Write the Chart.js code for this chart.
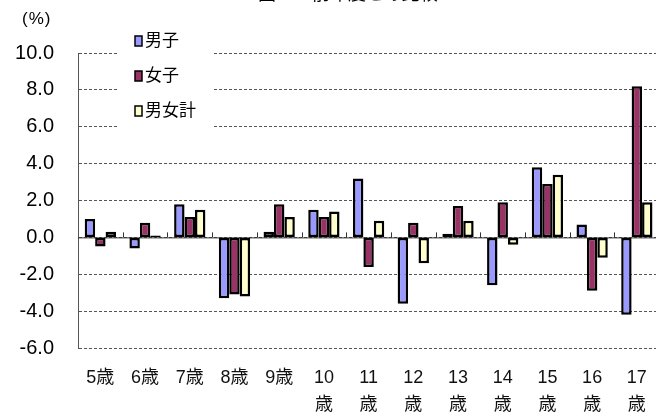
<!DOCTYPE html>
<html>
<head>
<meta charset="utf-8">
<script src="https://cdn.jsdelivr.net/npm/chart.js@4.4.1/dist/chart.umd.min.js"></script>
<style>
  body { margin: 0; background: #fff; }
  #wrap { position: relative; width: 656px; height: 417px; overflow: hidden; }
  #title { position: absolute; top: -21px; left: 258px; font: 18px 'Noto Sans CJK JP'; white-space: nowrap; color: #000; }
  #unit { position: absolute; top: 9px; left: 22px; font: 17px 'Liberation Sans', 'Noto Sans CJK JP'; color: #000; letter-spacing: 1px; }
</style>
</head>
<body>
<div id="wrap">
  <div id="title">図５　前年度との比較</div>
  <canvas id="myChart" width="664" height="417"></canvas>
  <div id="unit">(%)</div>
</div>
<script>
// 데이터
const categories = ['5歳', '6歳', '7歳', '8歳', '9歳', ['10', '歳'], ['11', '歳'], ['12', '歳'],
  ['13', '歳'], ['14', '歳'], ['15', '歳'], ['16', '歳'], ['17', '歳']];
const seriesNames = ['男子', '女子', '男女計'];
const boys = [1.0, -0.6, 1.8, -3.3, 0.3, 1.5, 3.2, -3.6, 0.2, -2.6, 3.8, 0.7, -4.2];
const girls = [-0.5, 0.8, 1.1, -3.1, 1.8, 1.1, -1.6, 0.8, 1.7, 1.9, 2.9, -2.9, 8.2];
const total = [0.3, 0.1, 1.5, -3.2, 1.1, 1.4, 0.9, -1.4, 0.9, -0.4, 3.4, -1.1, 1.9];
const yTicks = { min: -6, max: 10, step: 2 };

const colors = ['#9999FF', '#993366', '#FFFFCC'];
const fontFamily = "'Liberation Sans', 'Noto Sans CJK JP', sans-serif";

// 0선 + 범례 그리기
const overlayPlugin = {
  id: 'overlay',
  beforeDatasetsDraw(chart) {
    const ctx = chart.ctx;
    const area = chart.chartArea;
    const y0 = chart.scales.y.getPixelForValue(0);
    ctx.save();
    ctx.strokeStyle = '#333';
    ctx.lineWidth = 1;
    ctx.beginPath();
    ctx.moveTo(area.left, y0 + 0.5);
    ctx.lineTo(area.right, y0 + 0.5);
    // 카테고리 경계 눈금
    const w = (area.right - area.left) / categories.length;
    for (let i = 1; i < categories.length; i++) {
      const x = Math.round(area.left + w * i) + 0.5;
      ctx.moveTo(x, y0 - 5);
      ctx.lineTo(x, y0);
    }
    ctx.stroke();

    // 범례 배경
    const lx = area.left + 40;
    ctx.fillStyle = '#fff';
    ctx.fillRect(lx, area.top - 25, 96, 112);
    ctx.font = '17px ' + fontFamily;
    ctx.textBaseline = 'middle';
    chart.data.datasets.forEach((ds, i) => {
      const cy = area.top - 12 + i * 35;
      ctx.fillStyle = ds.backgroundColor;
      ctx.fillRect(lx + 17, cy - 5, 7, 10);
      ctx.strokeStyle = '#000';
      ctx.lineWidth = 1.5;
      ctx.strokeRect(lx + 17, cy - 5, 7, 10);
      ctx.fillStyle = '#000';
      ctx.fillText(ds.label, lx + 27, cy);
    });
    ctx.restore();
  }
};

const ctx = document.getElementById('myChart').getContext('2d');
const myChart = new Chart(ctx, {
  type: 'bar',
  data: {
    labels: categories,
    datasets: [boys, girls, total].map((d, i) => ({
      label: seriesNames[i],
      data: d,
      backgroundColor: colors[i],
      borderColor: '#000',
      borderWidth: 2.5,
      borderSkipped: false,
      categoryPercentage: 0.7,
      barPercentage: 1.0
    }))
  },
  options: {
    responsive: false,
    animation: false,
    layout: { padding: { top: 53, right: 4, left: 0, bottom: 0 } },
    plugins: {
      legend: { display: false },
      title: { display: false },
      tooltip: { enabled: false }
    },
    scales: {
      x: {
        grid: { display: false, drawTicks: false },
        border: { display: false },
        ticks: {
          color: '#111',
          padding: 17,
          maxRotation: 0,
          autoSkip: false,
          font: { family: fontFamily, size: 18, lineHeight: 1.5 }
        },
        afterFit(scale) { scale.height = 69; }
      },
      y: {
        min: yTicks.min,
        max: yTicks.max,
        grid: { color: '#555', lineWidth: 1, drawTicks: false },
        border: { display: true, color: '#555', width: 1, dash: [3, 2] },
        ticks: {
          stepSize: yTicks.step,
          padding: 24,
          color: '#000',
          font: { family: fontFamily, size: 20 },
          callback: v => v.toFixed(1)
        },
        afterFit(scale) { scale.width = 78; }
      }
    }
  },
  plugins: [overlayPlugin]
});
</script>
</body>
</html>
